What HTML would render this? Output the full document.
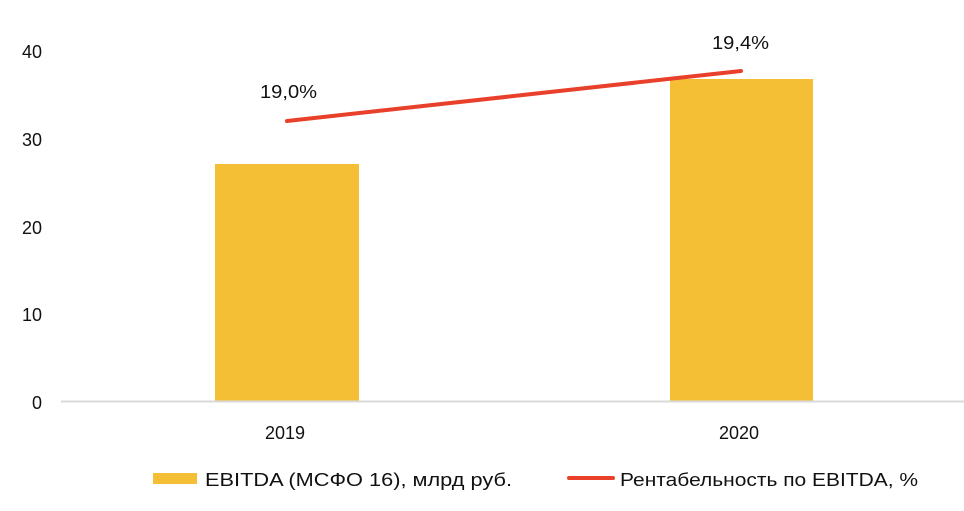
<!DOCTYPE html>
<html><head><meta charset="utf-8"><style>
html,body{margin:0;padding:0;background:#fff;}
svg{display:block;font-family:"Liberation Sans",sans-serif;}
</style></head><body>
<svg width="964" height="511" viewBox="0 0 964 511" xmlns="http://www.w3.org/2000/svg">
<g font-size="18" fill="#111" text-anchor="end">
<text x="42" y="58">40</text>
<text x="42" y="146">30</text>
<text x="42" y="234">20</text>
<text x="42" y="321">10</text>
<text x="42" y="409">0</text>
</g>
<rect x="215" y="164" width="144" height="237" fill="#f5bf35"/>
<rect x="670" y="79" width="143" height="322" fill="#f5bf35"/>
<line x1="61" y1="401.5" x2="964" y2="401.5" stroke="#d9d9d9" stroke-width="2"/>
<line x1="287" y1="121" x2="741" y2="71" stroke="#e8402a" stroke-width="4" stroke-linecap="round"/>
<g font-size="18" fill="#111">
<text x="260" y="98" textLength="57" lengthAdjust="spacingAndGlyphs">19,0%</text>
<text x="712" y="49" textLength="57" lengthAdjust="spacingAndGlyphs">19,4%</text>
<text x="265" y="439">2019</text>
<text x="719" y="439">2020</text>
</g>
<rect x="153" y="473" width="44" height="11" fill="#f5bf35"/>
<text x="205" y="486" font-size="18" fill="#111" textLength="307" lengthAdjust="spacingAndGlyphs">EBITDA (МСФО 16), млрд руб.</text>
<line x1="569" y1="478" x2="613" y2="478" stroke="#e8402a" stroke-width="4" stroke-linecap="round"/>
<text x="620" y="486" font-size="18" fill="#111" textLength="298" lengthAdjust="spacingAndGlyphs">Рентабельность по EBITDA, %</text>
</svg>
</body></html>
